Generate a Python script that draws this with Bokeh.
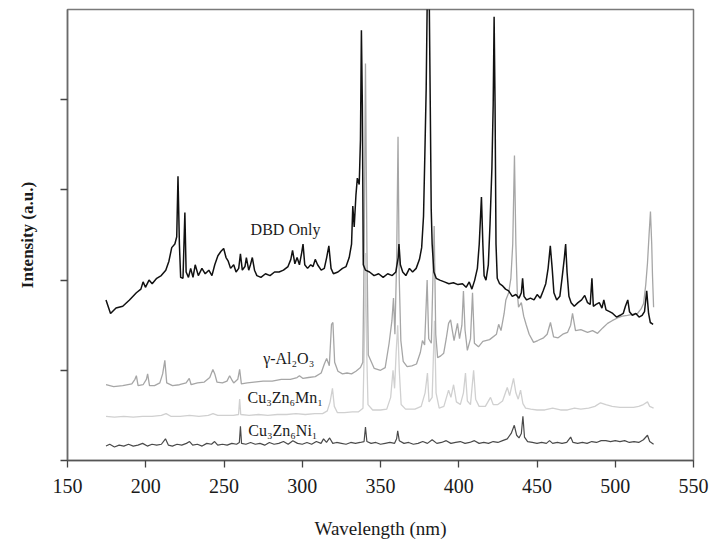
from bokeh.plotting import figure
from bokeh.models import Range1d, FixedTicker
from bokeh.core.properties import value
from bokeh.embed import file_html
from bokeh.resources import INLINE

# ---------------- data ----------------
x_ticks = [150, 200, 250, 300, 350, 400, 450, 500, 550]
y_ticks = [0, 1, 2, 3, 4]

dbd_wl = [174.6, 177.5, 181.0, 185.3, 189.6, 194.0, 196.9, 198.3, 199.8, 202.1, 204.1, 207.0, 209.9,
          212.8, 214.8, 216.6, 218.6, 219.8, 220.6, 221.5, 222.3, 223.8, 225.0, 225.8, 227.3, 228.7,
          230.2, 231.6, 233.6, 235.9, 238.0, 240.3, 242.3, 244.1, 246.1, 248.1, 249.8, 251.3, 252.7,
          254.2, 256.2, 257.7, 259.4, 260.5, 261.7, 263.4, 264.3, 265.8, 266.9, 268.1, 269.5, 271.0,
          273.6, 276.5, 279.4, 282.3, 285.2, 288.0, 290.9, 292.7, 293.8, 295.3, 296.7, 298.2, 299.6,
          300.5, 301.6, 303.4, 305.4, 306.9, 308.3, 309.8, 312.1, 314.1, 315.6, 317.0, 318.4, 319.9,
          322.8, 325.7, 328.0, 330.0, 331.5, 332.3, 333.2, 334.3, 335.2, 336.4, 337.2, 337.8, 338.4,
          339.0, 340.4, 343.0, 345.9, 348.8, 351.7, 354.6, 357.5, 359.8, 361.3, 361.8, 362.7, 364.2,
          366.2, 368.5, 370.5, 372.8, 374.9, 376.3, 377.5, 378.3, 379.2, 379.8, 381.2, 381.8, 382.4,
          383.0, 384.1, 385.6, 387.9, 390.8, 393.7, 396.6, 399.5, 402.4, 404.7, 406.7, 408.4, 410.2,
          411.9, 413.1, 414.5, 415.4, 416.2, 417.4, 418.9, 420.0, 421.2, 422.0, 422.6, 423.2, 423.8,
          424.6, 426.1, 427.8, 429.9, 431.9, 434.2, 436.5, 438.5, 440.0, 440.8, 441.7, 443.4, 445.8,
          448.1, 450.1, 452.1, 453.9, 455.6, 457.1, 458.5, 459.7, 460.8, 462.6, 464.6, 466.0, 467.5,
          468.3, 469.2, 470.4, 471.8, 473.8, 476.2, 478.5, 480.5, 482.3, 484.0, 485.1, 486.0, 487.7,
          489.8, 491.5, 492.7, 494.1, 496.4, 498.4, 500.8, 503.1, 505.1, 506.5, 508.0, 509.1, 510.9,
          513.2, 515.2, 517.2, 518.7, 520.1, 521.3, 522.4, 524.2]
dbd_int = [1.78, 1.63, 1.69, 1.71, 1.78, 1.86, 1.90, 1.98, 1.92, 2.00, 1.96, 2.02, 2.05,
           2.11, 2.21, 2.36, 2.40, 2.48, 3.15, 2.40, 2.03, 2.02, 2.75, 2.09, 2.03, 2.13,
           2.03, 2.17, 2.05, 2.13, 2.07, 2.11, 2.05, 2.17, 2.27, 2.32, 2.35, 2.25, 2.21,
           2.13, 2.17, 2.09, 2.13, 2.29, 2.11, 2.15, 2.25, 2.11, 2.17, 2.25, 2.11, 2.05,
           2.03, 2.07, 2.05, 2.09, 2.09, 2.11, 2.15, 2.23, 2.33, 2.18, 2.25, 2.17, 2.30,
           2.40, 2.17, 2.13, 2.17, 2.15, 2.23, 2.17, 2.11, 2.13, 2.25, 2.38, 2.13, 2.07,
           2.09, 2.13, 2.15, 2.25, 2.40, 2.82, 2.59, 2.94, 3.13, 3.06, 3.56, 4.77, 3.94,
           2.17, 2.11, 2.09, 2.05, 2.07, 2.03, 2.07, 2.05, 2.09, 2.25, 2.40, 2.17, 2.09,
           2.05, 2.13, 2.09, 2.13, 2.23, 2.36, 2.71, 3.36, 4.13, 5.02, 5.02, 3.94, 2.79,
           2.40, 2.09, 2.02, 2.00, 1.98, 1.96, 1.97, 1.95, 1.96, 1.92, 1.98, 1.90, 2.00,
           2.13, 2.40, 2.92, 2.40, 2.05, 2.00, 2.17, 2.63, 3.25, 3.94, 4.92, 3.94, 2.40,
           2.02, 1.96, 1.94, 1.90, 1.88, 1.82, 1.84, 1.80, 1.86, 2.02, 1.82, 1.78, 1.80,
           1.78, 1.84, 1.80, 1.88, 1.96, 2.13, 2.38, 2.13, 1.86, 1.78, 1.82, 2.02, 2.25,
           2.40, 2.09, 1.82, 1.75, 1.71, 1.75, 1.78, 1.83, 1.75, 1.73, 2.02, 1.71, 1.73,
           1.75, 1.69, 1.78, 1.67, 1.65, 1.63, 1.59, 1.61, 1.63, 1.71, 1.78, 1.65, 1.61,
           1.63, 1.59, 1.61, 1.65, 1.88, 1.63, 1.53, 1.51]

al_wl = [174.6, 179.5, 185.3, 191.1, 193.1, 194.0, 195.1, 198.3, 200.4, 201.2, 202.4, 205.6, 209.0,
         210.8, 212.2, 213.4, 217.1, 221.5, 225.8, 227.8, 229.0, 233.1, 237.4, 240.9, 242.9, 244.1,
         245.5, 249.0, 251.9, 253.6, 254.8, 256.2, 258.8, 260.0, 261.1, 264.9, 269.2, 275.0, 280.8,
         286.6, 292.4, 296.7, 298.2, 300.5, 304.0, 308.3, 312.1, 314.1, 315.6, 317.3, 318.7, 319.6,
         320.7, 322.8, 325.7, 328.6, 331.5, 334.3, 337.2, 338.7, 339.6, 340.4, 341.3, 342.2, 346.0,
         350.0, 353.0, 355.5, 357.3, 358.3, 359.2, 360.3, 361.2, 362.0, 363.0, 364.5, 367.0, 370.0,
         373.0, 375.5, 376.8, 378.2, 379.8, 380.8, 382.5, 384.3, 385.3, 386.5, 388.5, 390.4, 392.0,
         393.5, 394.8, 395.8, 397.0, 399.2, 400.5, 402.0, 403.0, 404.0, 405.5, 407.5, 408.8, 410.0,
         412.6, 415.4, 419.7, 424.1, 425.5, 427.0, 429.0, 430.1, 431.9, 433.3, 434.5, 435.6, 436.5,
         437.4, 438.2, 440.0, 441.5, 443.0, 445.0, 447.8, 450.5, 454.2, 456.5, 458.6, 460.6, 463.5,
         466.5, 469.5, 471.5, 472.7, 474.6, 478.0, 482.3, 485.5, 488.7, 492.0, 495.1, 498.0, 501.4,
         504.5, 507.8, 511.0, 514.2, 516.5, 518.1, 519.5, 520.6, 521.6, 522.5, 523.3, 523.8, 524.5]
al_int = [0.84, 0.82, 0.83, 0.85, 0.90, 0.94, 0.83, 0.84, 0.90, 0.96, 0.83, 0.83, 0.86,
          0.96, 1.11, 0.86, 0.83, 0.84, 0.86, 0.91, 0.84, 0.86, 0.87, 0.92, 1.01, 0.96,
          0.87, 0.86, 0.88, 0.94, 0.90, 0.86, 0.90, 1.01, 0.85, 0.86, 0.87, 0.88, 0.88,
          0.90, 0.90, 0.92, 0.94, 0.91, 0.92, 0.93, 0.97, 1.07, 1.13, 1.05, 1.51, 1.53,
          1.09, 0.99, 0.96, 0.97, 0.96, 0.99, 1.03, 1.09, 2.40, 4.40, 2.40, 1.17, 1.02,
          1.00, 1.03, 1.30, 1.55, 1.80, 1.40, 2.20, 3.59, 2.00, 1.33, 1.10, 1.04, 1.05,
          1.07, 1.20, 1.33, 1.28, 2.00, 1.35, 1.30, 2.60, 1.40, 1.14, 1.16, 1.19, 1.35,
          1.52, 1.56, 1.45, 1.33, 1.52, 1.35, 1.50, 1.88, 1.45, 1.22, 1.35, 1.86, 1.30,
          1.26, 1.32, 1.34, 1.40, 1.51, 1.44, 1.63, 1.78, 1.86, 2.02, 2.40, 3.38, 2.40,
          1.86, 1.70, 1.75, 1.60, 1.51, 1.40, 1.31, 1.33, 1.36, 1.40, 1.53, 1.37, 1.36,
          1.40, 1.42, 1.50, 1.63, 1.44, 1.45, 1.42, 1.44, 1.41, 1.47, 1.52, 1.55, 1.58,
          1.60, 1.61, 1.62, 1.63, 1.68, 1.74, 1.95, 2.19, 2.50, 2.76, 2.40, 2.05, 1.70]

mn_wl = [174.6, 180, 186, 192, 198, 204, 210, 213, 216, 222, 228, 234, 240, 243, 246, 252, 256,
         259.3, 260.0, 260.7, 266, 272, 278, 284, 290, 296, 302, 308, 313, 316, 317.8, 319.3,
         320.5, 322.5, 327, 332, 336, 338.8, 339.8, 340.5, 341.2, 342.0, 345, 350, 354, 356.5,
         358.0, 359.0, 360.0, 361.0, 362.0, 363.2, 366, 372, 376, 378.5, 380.0, 381.0, 383.0,
         384.5, 385.5, 387.5, 390.5, 393.5, 395.0, 396.7, 398.5, 401.0, 403.0, 404.3, 405.5,
         407.5, 409.5, 410.8, 413, 417, 420.3, 422, 425, 428, 431, 432.5, 435, 436.5, 438,
         439.5, 441, 442.7, 446, 450, 455, 460, 465, 469.5, 474, 478, 483, 487, 490.6, 494,
         498, 503, 508, 511.7, 515, 518, 520.6, 522, 524.5]
mn_int = [0.49, 0.48, 0.49, 0.48, 0.49, 0.49, 0.50, 0.52, 0.49, 0.49, 0.50, 0.49, 0.50, 0.52, 0.50,
          0.50, 0.50, 0.51, 0.68, 0.51, 0.50, 0.51, 0.50, 0.51, 0.51, 0.52, 0.51, 0.52, 0.52, 0.55,
          0.65, 0.80, 0.60, 0.53, 0.53, 0.54, 0.54, 0.58, 1.40, 2.30, 1.20, 0.62, 0.56, 0.56, 0.57,
          0.70, 1.00, 0.80, 1.20, 1.50, 1.00, 0.62, 0.57, 0.57, 0.60, 0.75, 0.97, 0.65, 0.70, 1.55,
          0.75, 0.58, 0.60, 0.78, 0.70, 0.84, 0.65, 0.62, 0.75, 0.97, 0.66, 0.62, 1.00, 0.68, 0.60,
          0.60, 0.70, 0.62, 0.62, 0.66, 0.81, 0.72, 0.91, 0.75, 0.68, 0.78, 0.63, 0.58, 0.57, 0.56,
          0.56, 0.58, 0.56, 0.56, 0.58, 0.57, 0.58, 0.60, 0.64, 0.62, 0.60, 0.59, 0.59, 0.59, 0.60,
          0.62, 0.65, 0.60, 0.58]

ni_wl = [174.6, 177, 180, 183, 186, 189, 192, 195, 198, 201, 204, 207, 210, 212.6, 214.5, 217, 220,
         223, 226, 228, 230, 233, 236, 239, 242, 244, 246, 249, 252, 255, 258, 259.8, 260.5, 261.2,
         264, 267, 270, 273, 276, 279, 282, 285, 288, 291, 294, 297, 300, 303, 306, 309, 312, 313.6,
         315.5, 317.5, 319.5, 322, 325, 328, 331, 334, 337, 339.5, 340.4, 341.3, 344, 347, 350, 353,
         356, 359, 360.3, 361.0, 362.0, 365, 368, 371, 374, 377, 380, 383, 386, 389, 392, 395, 398,
         401, 404, 407, 410, 413, 416, 419, 422, 425, 428, 431, 433.5, 435.5, 437, 438.5, 440.0,
         441.0, 442.0, 444, 447, 450, 453, 456, 458, 460, 463, 466, 469, 471.5, 473, 476, 479, 482,
         485, 488, 491, 494, 497, 500, 503, 506, 509, 512, 515, 518, 520.6, 522, 524.5]
ni_int = [0.16, 0.18, 0.15, 0.17, 0.16, 0.18, 0.16, 0.17, 0.19, 0.16, 0.18, 0.17, 0.18, 0.24, 0.17,
          0.16, 0.18, 0.17, 0.19, 0.21, 0.17, 0.18, 0.16, 0.19, 0.18, 0.21, 0.17, 0.18, 0.17, 0.19,
          0.18, 0.20, 0.38, 0.19, 0.18, 0.20, 0.18, 0.19, 0.17, 0.20, 0.18, 0.19, 0.21, 0.18, 0.22,
          0.19, 0.18, 0.20, 0.18, 0.21, 0.19, 0.24, 0.20, 0.25, 0.19, 0.20, 0.19, 0.18, 0.20, 0.19,
          0.20, 0.21, 0.37, 0.21, 0.19, 0.20, 0.18, 0.19, 0.20, 0.19, 0.24, 0.33, 0.22, 0.19, 0.20,
          0.18, 0.19, 0.21, 0.19, 0.23, 0.19, 0.20, 0.22, 0.19, 0.20, 0.21, 0.19, 0.20, 0.22, 0.19,
          0.20, 0.19, 0.21, 0.20, 0.22, 0.24, 0.30, 0.39, 0.28, 0.25, 0.30, 0.49, 0.26, 0.21, 0.20,
          0.19, 0.20, 0.19, 0.22, 0.19, 0.20, 0.19, 0.20, 0.26, 0.20, 0.19, 0.20, 0.19, 0.21, 0.20,
          0.22, 0.22, 0.21, 0.22, 0.21, 0.22, 0.20, 0.21, 0.20, 0.23, 0.28, 0.21, 0.18]

series_labels = ["DBD Only", "γ-Al₂O₃", "Cu₃Zn₆Mn₁", "Cu₃Zn₆Ni₁"]
label_x = [267.0, 275.0, 265.0, 265.5]
label_y = [2.56, 1.13, 0.70, 0.33]

# ---------------- figure ----------------
SERIF = "Liberation Serif"

p = figure(width=711, height=547, output_backend="svg", toolbar_location=None,
           x_range=Range1d(150, 550), y_range=Range1d(0, 5),
           min_border_left=67, min_border_right=18, min_border_top=9, min_border_bottom=87)
p.background_fill_color = "white"
p.border_fill_color = "white"
p.outline_line_color = "#7a7a7a"
p.outline_line_width = 1.5
p.xgrid.visible = False
p.ygrid.visible = False

p.line(mn_wl, mn_int, line_color="#d0d0d0", line_width=1.3)
p.line(al_wl, al_int, line_color="#a6a6a6", line_width=1.3)
p.line(ni_wl, ni_int, line_color="#4a4a4a", line_width=1.2)
p.line(dbd_wl, dbd_int, line_color="#111111", line_width=1.5)

p.text(x=label_x, y=label_y, text=series_labels, text_font=value(SERIF),
       text_font_size="16px", text_color="#1a1a1a", text_align="left", text_baseline="middle")

xa = p.xaxis[0]
xa.ticker = FixedTicker(ticks=x_ticks)
xa.axis_label = "Wavelength (nm)"
xa.axis_label_text_font = SERIF
xa.axis_label_text_font_style = "normal"
xa.axis_label_text_font_size = "19px"
xa.axis_label_text_color = "#1a1a1a"
xa.axis_label_standoff = 22
xa.major_label_text_font = SERIF
xa.major_label_text_font_size = "20px"
xa.major_label_text_color = "#1a1a1a"
xa.major_label_standoff = 11
xa.major_tick_out = 7
xa.major_tick_in = 0
xa.minor_tick_out = 0
xa.minor_tick_in = 0
xa.axis_line_color = "#555555"
xa.axis_line_width = 1.5
xa.major_tick_line_color = "#444444"
xa.major_tick_line_width = 1.3

ya = p.yaxis[0]
ya.ticker = FixedTicker(ticks=y_ticks)
ya.major_label_overrides = {t: "" for t in y_ticks}
ya.major_label_standoff = 0
ya.axis_label = "Intensity (a.u.)"
ya.axis_label_text_font = SERIF
ya.axis_label_text_font_style = "bold"
ya.axis_label_text_font_size = "17px"
ya.axis_label_text_color = "#1a1a1a"
ya.axis_label_standoff = 24
ya.major_tick_out = 7
ya.major_tick_in = 0
ya.minor_tick_out = 0
ya.minor_tick_in = 0
ya.axis_line_color = "#6a6a6a"
ya.axis_line_width = 1.5
ya.major_tick_line_color = "#444444"
ya.major_tick_line_width = 1.3

open("out.html", "w").write(file_html(p, INLINE))
